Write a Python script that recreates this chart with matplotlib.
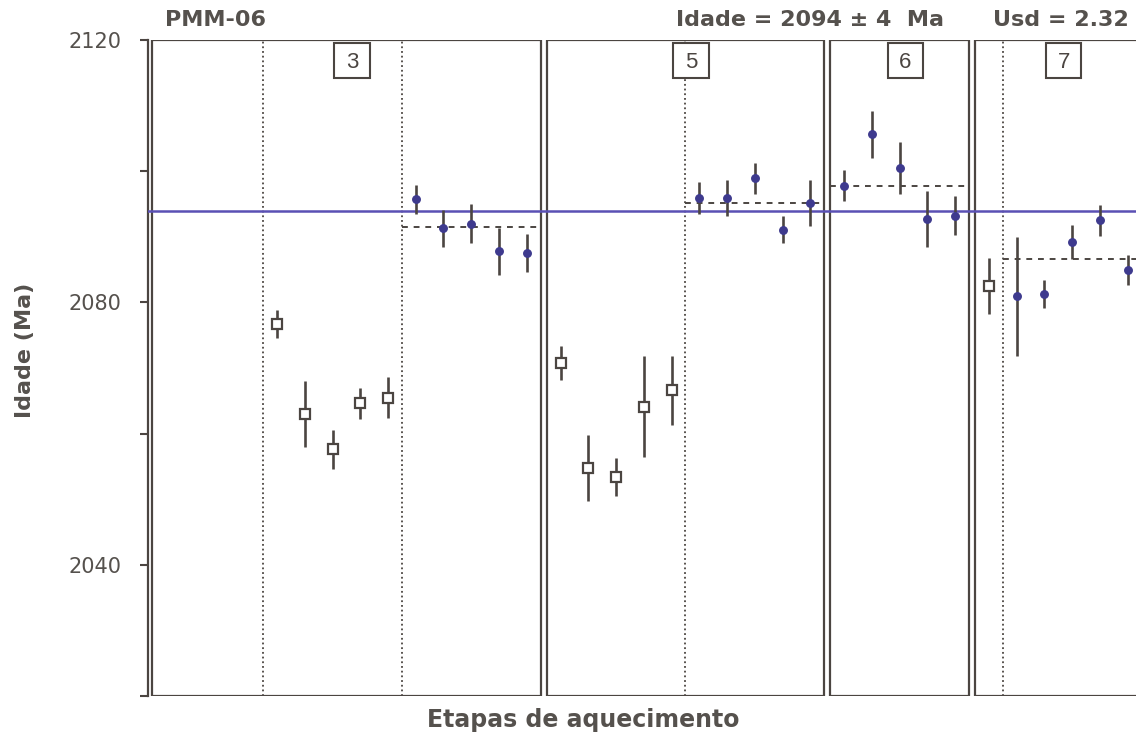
import matplotlib
matplotlib.use("Agg")
import matplotlib.pyplot as plt
from matplotlib.patches import Rectangle
from matplotlib.ticker import FixedLocator, NullFormatter

# --- data -------------------------------------------------------------
fragments = ["3", "5", "6", "7"]
panel_steps = [14, 10, 5, 6]                  # heating steps per fragment

# step index (within fragment) of each measured step
steps_3 = [4, 5, 6, 7, 8, 9, 10, 11, 12, 13]
steps_5 = [0, 1, 2, 3, 4, 5, 6, 7, 8, 9]
steps_6 = [0, 1, 2, 3, 4]
steps_7 = [0, 1, 2, 3, 4, 5]

# 207Pb/206Pb step ages (Ma) and 2-sigma errors
age_3 = [2076.7, 2063.0, 2057.6, 2064.6, 2065.5, 2095.7, 2091.3, 2092.0, 2087.8, 2087.6]
err_3 = [2.2, 5.0, 3.0, 2.4, 3.1, 2.2, 2.8, 3.0, 3.6, 2.9]
age_5 = [2070.7, 2054.8, 2053.4, 2064.1, 2066.6, 2095.9, 2095.9, 2098.9, 2091.1, 2095.2]
err_5 = [2.6, 5.0, 2.9, 7.7, 5.3, 2.5, 2.8, 2.4, 2.0, 3.5]
age_6 = [2097.8, 2105.6, 2100.5, 2092.7, 2093.2]
err_6 = [2.4, 3.6, 4.0, 4.3, 3.0]
age_7 = [2082.5, 2080.9, 2081.3, 2089.2, 2092.5, 2084.9]
err_7 = [4.3, 9.1, 2.1, 2.6, 2.4, 2.3]

# steps used in each fragment's plateau (True = accepted)
used_3 = [False] * 5 + [True] * 5
used_5 = [False] * 5 + [True] * 5
used_6 = [True] * 5
used_7 = [False] + [True] * 5

# separators (dotted) and plateau ages of each fragment
dividers = {"3": [4, 9], "5": [5], "6": [], "7": [1]}
plateau_age = [2091.5, 2095.1, 2097.8, 2086.6]
plateau_from = [9, 5, 0, 1]

mean_age = 2094
mean_err = 4
usd = "2.32"

# --- style ------------------------------------------------------------
ink = "#4b4541"
text_col = "#55514d"
blue = "#5a50b4"
dot_col = "#3e3a8e"

fig = plt.figure(figsize=(11.36, 7.35), dpi=100)
ax = fig.add_axes([148 / 1136, 1 - 696 / 735, 1 - 148 / 1136, (696 - 40) / 735])
ax.set_ylim(2020, 2120)
ax.set_xlim(-0.15, 35.46)

gap = 0.22
starts = []
x0 = 0.0
for w in panel_steps:
    starts.append(x0)
    x0 += w + gap

series = [
    (steps_3, age_3, err_3, used_3),
    (steps_5, age_5, err_5, used_5),
    (steps_6, age_6, err_6, used_6),
    (steps_7, age_7, err_7, used_7),
]

box_w, box_h = 1.27, 5.35        # fragment label box (steps, Ma)
for i, frag in enumerate(fragments):
    s = starts[i]
    w = panel_steps[i]
    ax.add_patch(Rectangle((s, 2020), w, 100, fill=False, edgecolor=ink,
                           linewidth=1.6, zorder=2, clip_on=True))
    for d in dividers[frag]:
        ax.plot([s + d, s + d], [2020, 2120], linestyle=(0, (1, 1.6)),
                color=ink, linewidth=1.3, zorder=2)
    ax.plot([s + plateau_from[i], s + w], [plateau_age[i]] * 2,
            linestyle=(0, (3, 3)), color=ink, linewidth=1.4, zorder=3)
    cx, cy = s + w / 2 + 0.2, 2116.9
    ax.add_patch(Rectangle((cx - box_w / 2, cy - box_h / 2), box_w, box_h,
                           facecolor="white", edgecolor=ink, linewidth=1.5,
                           zorder=5))
    ax.text(cx, cy, frag, ha="center", va="center_baseline", fontsize=16,
            color=ink, family="Liberation Sans", zorder=6)

    steps, ages, errs, used = series[i]
    for st, a, e, u in zip(steps, ages, errs, used):
        x = s + st + 0.5
        ax.plot([x, x], [a - e, a + e], color=ink, linewidth=1.9,
                solid_capstyle="butt", zorder=4)
        if u:
            ax.plot(x, a, "o", markersize=5.4, color=dot_col,
                    markeredgecolor=dot_col, zorder=6)
        else:
            ax.plot(x, a, "s", markersize=6.5, markerfacecolor="white",
                    markeredgecolor=ink, markeredgewidth=1.6, zorder=6)

# weighted mean age
ax.axhline(mean_age, color=blue, linewidth=1.8, zorder=3)

# axes
for side in ("top", "right", "bottom"):
    ax.spines[side].set_visible(False)
ax.spines["left"].set_color(ink)
ax.spines["left"].set_linewidth(1.6)
ax.yaxis.set_major_locator(FixedLocator([2040, 2080, 2120]))
ax.yaxis.set_minor_locator(FixedLocator([2020, 2060, 2100]))
ax.yaxis.set_minor_formatter(NullFormatter())
ax.tick_params(axis="y", which="both", length=6, width=1.5, color=ink,
               direction="out")
ax.tick_params(axis="y", which="major", pad=13, labelsize=15,
               labelcolor=text_col)
for lab in ax.get_yticklabels():
    lab.set_family("DejaVu Sans")
ax.set_xticks([])

# titles and axis labels
bold = dict(fontweight="bold", color=text_col, family="DejaVu Sans",
            fontsize=16)
fig.text(165 / 1136, 1 - 20 / 735, "PMM-06", ha="left", va="center", **bold)
fig.text(676 / 1136, 1 - 20 / 735, f"Idade = {mean_age} \u00b1 {mean_err}  Ma",
         ha="left", va="center", **bold)
fig.text(993 / 1136, 1 - 20 / 735, f"Usd = {usd}", ha="left", va="center",
         **bold)
fig.text(583 / 1136, 1 - 720 / 735, "Etapas de aquecimento", ha="center",
         va="center", **{**bold, "fontsize": 17})
fig.text(25 / 1136, 1 - 350 / 735, "Idade (Ma)", ha="center", va="center",
         rotation=90, **bold)

fig.savefig("out.png", dpi=100, facecolor="white")
